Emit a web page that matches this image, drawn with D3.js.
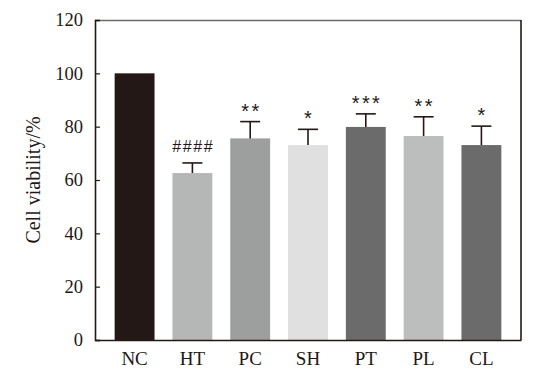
<!DOCTYPE html>
<html>
<head>
<meta charset="utf-8">
<script src="https://cdn.jsdelivr.net/npm/d3@7"></script>
<style>
  html, body { margin: 0; padding: 0; background: #fff; }
  svg { display: block; }
</style>
</head>
<body>
<svg id="chart" width="554" height="378"></svg>
<script>
const categories = ["NC", "HT", "PC", "SH", "PT", "PL", "CL"];
const values = [100, 62.6, 75.6, 73.1, 79.9, 76.5, 73.1];
const errors = [0, 3.8, 6.3, 5.9, 4.9, 7.2, 7.1];
const marks = ["", "####", "**", "*", "***", "**", "*"];
const colors = ["#231815", "#b5b6b6", "#9d9e9e", "#e0e0e0", "#6b6b6b", "#bcbdbd", "#6b6b6b"];
const yTicks = [0, 20, 40, 60, 80, 100, 120];

(function () {
const svg = d3.select("#chart");
const mL = 95, mR = 521, mT = 20, mB = 340;
const serif = "'Liberation Serif', 'Times New Roman', serif";

const x = d3.scaleBand().domain(categories).range([mL, mR])
  .paddingInner(0.31).paddingOuter(0.34);
const y = d3.scaleLinear().domain([0, 120]).range([mB, mT]);

const data = categories.map((c, i) => ({ c, v: values[i], e: errors[i], m: marks[i], col: colors[i] }));

// frame top & right
svg.append("line").attr("x1", mL).attr("x2", mR).attr("y1", mT + 0.5).attr("y2", mT + 0.5)
  .attr("stroke", "#6b6b6b").attr("stroke-width", 1.6);
svg.append("line").attr("x1", mR).attr("x2", mR).attr("y1", mT).attr("y2", mB)
  .attr("stroke", "#231815").attr("stroke-width", 1.6);

// bars
svg.append("g").selectAll("rect").data(data).join("rect")
  .attr("x", d => x(d.c)).attr("width", x.bandwidth())
  .attr("y", d => y(d.v)).attr("height", d => y(0) - y(d.v))
  .attr("fill", d => d.col);

// error bars
const eb = svg.append("g").attr("stroke", "#231815").attr("stroke-width", 1.6);
data.filter(d => d.e > 0).forEach(d => {
  const cx = x(d.c) + x.bandwidth() / 2;
  eb.append("line").attr("x1", cx).attr("x2", cx).attr("y1", y(d.v)).attr("y2", y(d.v + d.e));
  eb.append("line").attr("x1", cx - 10).attr("x2", cx + 10).attr("y1", y(d.v + d.e)).attr("y2", y(d.v + d.e));
});

// significance marks
svg.append("g").selectAll("text").data(data.filter(d => d.m)).join("text")
  .attr("x", d => x(d.c) + x.bandwidth() / 2 + (d.m[0] === "#" ? 0.8 : 1.2))
  .attr("y", d => y(d.v + d.e) - (d.m[0] === "#" ? 11.3 : 4))
  .attr("text-anchor", "middle")
  .attr("font-family", "'Liberation Sans', Arial, sans-serif")
  .attr("font-size", d => d.m[0] === "#" ? 16 : 20)
  .attr("letter-spacing", d => d.m[0] === "#" ? 1.6 : 2.4)
  .attr("fill", "#231815")
  .text(d => d.m);

// y axis
const yAxis = d3.axisLeft(y).tickValues(yTicks).tickSize(-5).tickPadding(12);
const gy = svg.append("g").attr("transform", `translate(${mL},0)`).call(yAxis);
gy.select(".domain").attr("stroke", "#231815").attr("stroke-width", 1.6);
gy.selectAll(".tick line").attr("stroke", "#231815").attr("stroke-width", 1.2);
gy.selectAll(".tick text").attr("font-family", serif)
  .attr("font-size", 18.5).attr("fill", "#231815");

// x axis
const xAxis = d3.axisBottom(x).tickSize(0).tickPadding(12);
const gx = svg.append("g").attr("transform", `translate(0,${mB})`).call(xAxis);
gx.select(".domain").attr("stroke", "#231815").attr("stroke-width", 1.6);
gx.selectAll(".tick text").attr("font-family", serif)
  .attr("font-size", 19).attr("fill", "#231815");

// y label
svg.append("text")
  .attr("transform", `translate(40,${(mT + mB) / 2}) rotate(-90)`)
  .attr("text-anchor", "middle")
  .attr("font-family", serif)
  .attr("font-size", 20).attr("fill", "#231815")
  .text("Cell viability/%");
})();
</script>
</body>
</html>
